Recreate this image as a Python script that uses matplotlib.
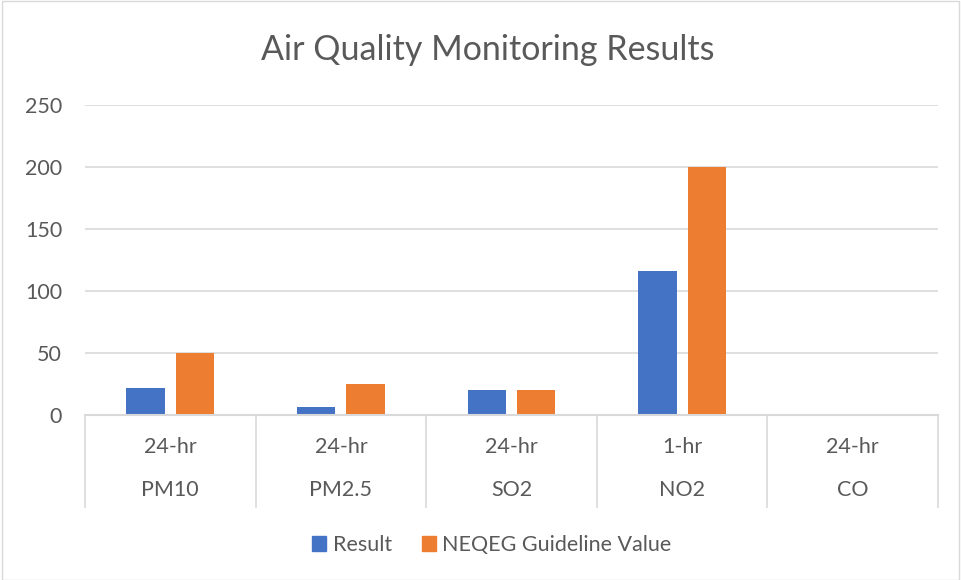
import matplotlib
matplotlib.use("Agg")
import matplotlib.pyplot as plt
import matplotlib.transforms as mtransforms
from matplotlib.patches import Rectangle, Patch
import numpy as np

plt.rcParams['font.family'] = ['Lato', 'DejaVu Sans']

pollutants = ["PM10", "PM2.5", "SO2", "NO2", "CO"]
periods = ["24-hr", "24-hr", "24-hr", "1-hr", "24-hr"]
result = [21.5, 6.5, 20, 116, 0.3]
guideline = [50, 25, 20, 200, 0]
y_ticks = [0, 50, 100, 150, 200, 250]

blue = "#4472C4"
orange = "#ED7D31"
text_c = "#595959"
grid_c = "#D9D9D9"
fs = 15.5

W, H = 961, 580
fig = plt.figure(figsize=(W / 100, H / 100), dpi=100)
fig.patches.append(Rectangle((2 / W, 0), 1 - 4 / W, 1 - 1 / H, transform=fig.transFigure,
                             fill=False, edgecolor=grid_c, linewidth=1))

left, right = 85 / W, 938 / W
bottom, top = (H - 415) / H, (H - 105) / H
ax = fig.add_axes([left, bottom, right - left, top - bottom])

x = np.arange(len(pollutants))
bw = 0.225
off = 0.145
ax.bar(x - off, result, bw, color=blue, label="Result", zorder=3)
ax.bar(x + off, guideline, bw, color=orange, label="NEQEG Guideline Value", zorder=3)

ax.set_xlim(-0.5, len(pollutants) - 0.5)
ax.set_ylim(0, 250)
ax.set_yticks(y_ticks)
ax.yaxis.grid(True, color=grid_c, linewidth=1.2, zorder=0)
ax.set_axisbelow(True)
for s in ax.spines.values():
    s.set_visible(False)
ax.tick_params(axis='y', length=0, labelsize=fs, labelcolor=text_c, pad=16.5)
ax.tick_params(axis='x', length=0, labelbottom=False)

# multi-level category axis
trans = mtransforms.blended_transform_factory(ax.transData, ax.transAxes)
depth = 92 / 310
ax.plot([-0.5, len(pollutants) - 0.5], [0, 0], transform=trans, color=grid_c,
        linewidth=1.5, clip_on=False, zorder=4)
for b in np.arange(-0.5, len(pollutants), 1.0):
    ax.plot([b, b], [0, -depth], transform=trans, color=grid_c, linewidth=1.2, clip_on=False)
for i in range(len(pollutants)):
    ax.text(i, -32 / 310, periods[i], transform=trans, ha='center', va='center',
            fontsize=fs, color=text_c)
    ax.text(i, -75 / 310, pollutants[i], transform=trans, ha='center', va='center',
            fontsize=fs, color=text_c)

fig.text(488 / W, 1 - 50 / H, "Air Quality Monitoring Results", ha='center', va='center',
         fontsize=24.5, color=text_c)

handles = [Patch(color=blue, label="Result"), Patch(color=orange, label="NEQEG Guideline Value")]
fig.legend(handles=handles, loc='center', bbox_to_anchor=(492 / W, 1 - 545 / H), ncol=2,
           frameon=False, fontsize=fs, labelcolor=text_c, handlelength=0.65,
           handleheight=0.65, handletextpad=0.3, columnspacing=1.4)

fig.savefig("out.png", dpi=100)
